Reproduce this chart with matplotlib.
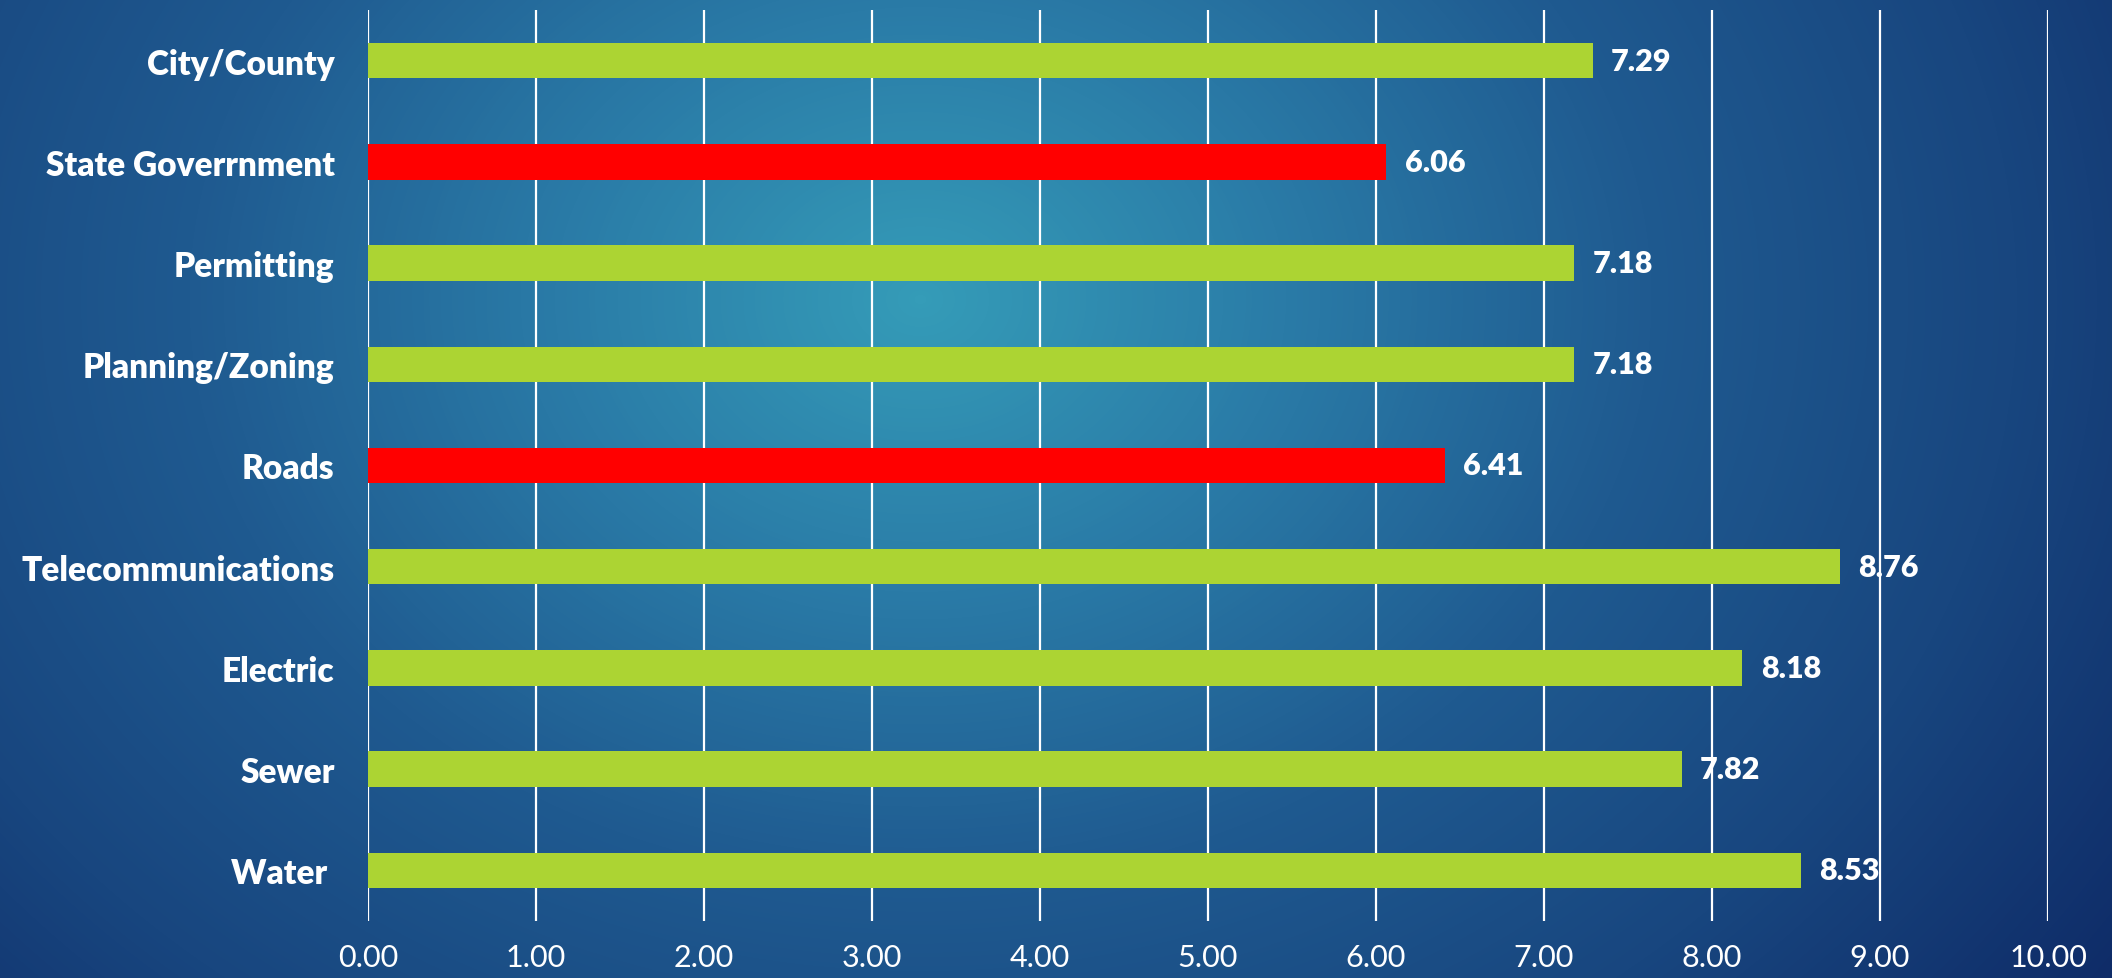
import numpy as np
import matplotlib.pyplot as plt
from matplotlib.colors import LinearSegmentedColormap

categories = ['City/County', 'State Goverrnment', 'Permitting', 'Planning/Zoning',
              'Roads', 'Telecommunications', 'Electric', 'Sewer', 'Water ']
scores = [7.29, 6.06, 7.18, 7.18, 6.41, 8.76, 8.18, 7.82, 8.53]
low_scores = ['State Goverrnment', 'Roads']
x_ticks = [0, 1, 2, 3, 4, 5, 6, 7, 8, 9, 10]

green = '#acd433'
red = '#ff0000'

W, H = 2112, 979
fig = plt.figure(figsize=(W / 100, H / 100), dpi=100)

# radial background: teal glow near upper middle, navy towards the edges
bg = fig.add_axes([0, 0, 1, 1])
yy, xx = np.mgrid[0:H, 0:W]
d = np.sqrt(((xx - 920) / 1250.0) ** 2 + ((yy - 300) / 1000.0) ** 2)
bg_cmap = LinearSegmentedColormap.from_list(
    'bg', ['#359cb8', '#2a7ba7', '#1f5a90', '#18467f', '#0f2c68'])
bg.imshow(np.clip(d / 1.25, 0, 1), cmap=bg_cmap, extent=[0, 1, 0, 1],
          aspect='auto', origin='upper')
bg.axis('off')

ax = fig.add_axes([368 / W, 57 / H, 1680 / W, 911 / H])
ax.patch.set_alpha(0)

y = np.arange(len(categories))
colors = [red if c in low_scores else green for c in categories]
ax.barh(y, scores, height=0.35, color=colors, zorder=3)

for yi, v in zip(y, scores):
    ax.text(v + 0.11, yi, f'{v:.2f}', va='center', ha='left', color='white',
            fontsize=22, fontweight='heavy', family='Lato', zorder=4)

ax.set_xlim(0, 10)
ax.set_ylim(len(categories) - 0.5, -0.5)
ax.set_xticks(x_ticks)
ax.set_xticklabels([f'{t:.2f}' for t in x_ticks], color='white', fontsize=22, family='Lato')
ax.set_yticks(y)
ax.set_yticklabels(categories, color='white', fontsize=24, fontweight='heavy', family='Lato')
ax.tick_params(axis='both', length=0)
ax.tick_params(axis='x', pad=16)
ax.tick_params(axis='y', pad=24)
ax.grid(axis='x', color='white', linewidth=1.6, zorder=1)
for s in ax.spines.values():
    s.set_visible(False)

fig.savefig('out.png', dpi=100)
